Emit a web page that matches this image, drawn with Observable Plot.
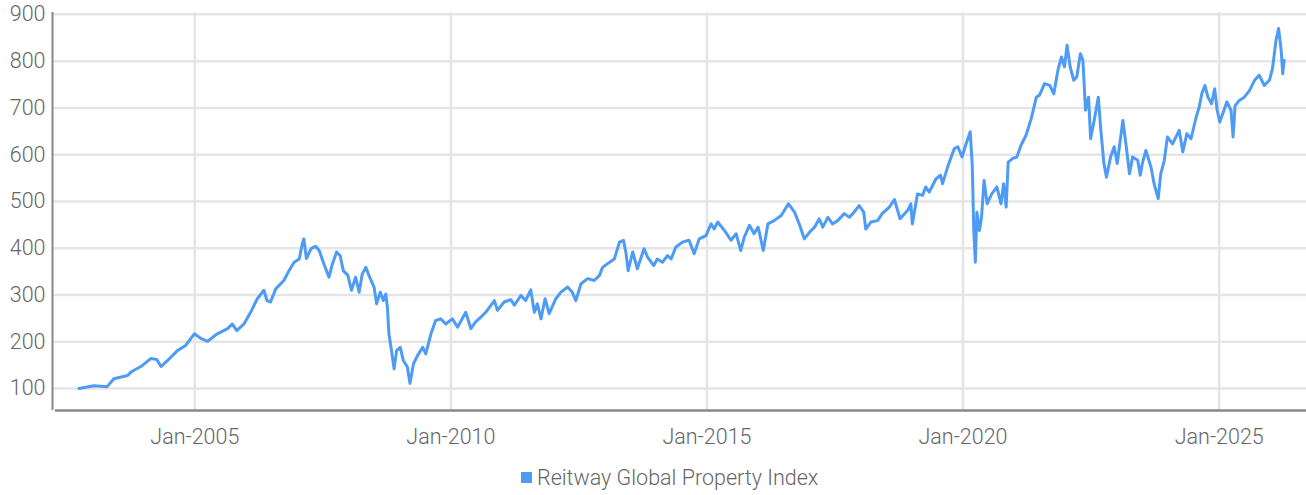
<!DOCTYPE html>
<html><head><meta charset="utf-8">
<script src="https://cdn.jsdelivr.net/npm/d3@7"></script>
<script src="https://cdn.jsdelivr.net/npm/@observablehq/plot@0.6"></script>
<style>
body{margin:0;background:#fff;font-family:Roboto,sans-serif;}
#chart{position:relative;width:1306px;height:495px;}
#legend{position:absolute;left:521px;top:465px;display:flex;align-items:center;font-size:21.5px;font-weight:300;color:#666;white-space:nowrap;}
#legend .sw{width:11px;height:11px;background:#4e9bf5;margin-right:5px;display:inline-block;}
</style></head><body>
<div id="chart"></div>
<script>
const seriesName = "Reitway Global Property Index";
const decimalYears = [
2002.74,2003.03,2003.29,2003.42,2003.69,2003.78,2003.95,2004.14,2004.26,2004.34,2004.47,2004.66,2004.82,2004.99,
2005.12,2005.25,2005.44,2005.64,2005.73,2005.82,2005.96,2006.09,2006.22,2006.35,2006.41,2006.48,2006.58,2006.74,2006.84,2006.94,
2007.04,2007.10,2007.13,2007.18,2007.27,2007.36,2007.43,2007.52,2007.62,2007.69,2007.77,2007.84,2007.90,2007.99,
2008.06,2008.14,2008.21,2008.27,2008.34,2008.40,2008.50,2008.55,2008.62,2008.68,2008.73,2008.76,2008.79,2008.84,2008.89,2008.94,
2009.01,2009.07,2009.15,2009.20,2009.27,2009.35,2009.45,2009.51,2009.61,2009.70,2009.80,2009.90,
2010.03,2010.13,2010.29,2010.39,2010.48,2010.59,2010.68,2010.85,2010.91,
2011.04,2011.17,2011.24,2011.37,2011.46,2011.56,2011.63,2011.69,2011.76,2011.84,2011.92,
2012.05,2012.15,2012.28,2012.37,2012.44,2012.54,2012.67,2012.80,2012.90,2012.96,
2013.06,2013.19,2013.29,2013.37,2013.42,2013.46,2013.55,2013.64,2013.77,2013.84,2013.96,
2014.03,2014.13,2014.23,2014.30,2014.39,2014.52,2014.65,2014.75,2014.85,2014.98,
2015.08,2015.14,2015.21,2015.34,2015.47,2015.57,2015.66,2015.73,2015.83,2015.92,
2016.00,2016.10,2016.19,2016.31,2016.45,2016.59,2016.71,2016.80,2016.90,
2017.00,2017.10,2017.19,2017.26,2017.36,2017.45,2017.55,2017.68,2017.78,2017.87,2017.97,
2018.06,2018.10,2018.20,2018.33,2018.42,2018.56,2018.66,2018.77,2018.92,2018.98,
2019.01,2019.11,2019.21,2019.27,2019.34,2019.47,2019.56,2019.60,2019.70,2019.83,2019.90,2019.98,
2020.06,2020.14,2020.18,2020.21,2020.24,2020.27,2020.32,2020.36,2020.41,2020.47,2020.56,2020.66,2020.74,2020.79,2020.84,2020.88,2020.97,
2021.05,2021.13,2021.23,2021.33,2021.43,2021.49,2021.59,2021.69,2021.77,2021.85,2021.92,2021.98,
2022.03,2022.09,2022.16,2022.22,2022.29,2022.34,2022.39,2022.45,2022.49,2022.56,2022.64,2022.69,2022.75,2022.80,2022.88,2022.95,
2023.01,2023.12,2023.18,2023.25,2023.31,2023.41,2023.46,2023.50,2023.57,2023.67,2023.73,2023.81,2023.86,2023.93,2023.99,
2024.09,2024.22,2024.29,2024.37,2024.45,2024.55,2024.61,2024.66,2024.72,2024.78,2024.85,2024.91,2024.96,
2025.01,2025.07,2025.15,2025.23,2025.27,2025.31,2025.39,2025.49,2025.59,2025.69,2025.78,2025.88,2025.98,
2026.04,2026.11,2026.16,2026.21,2026.24,2026.27
];
const indexValues = [
100,106,104,121,128,137,147,164,162,147,160,181,192,217,
207,201,217,228,238,224,238,263,292,310,288,285,313,331,352,370,
377,410,420,378,399,404,395,367,338,367,392,384,352,342,
310,338,306,345,359,342,317,281,306,288,302,274,217,181,142,181,
188,160,146,111,153,171,188,174,217,245,249,238,
249,231,263,228,242,253,263,288,267,
285,290,278,299,288,311,263,281,249,292,260,
292,306,317,306,288,324,335,331,342,359,
367,377,413,417,388,352,392,356,399,381,363,
377,370,384,377,402,413,417,388,420,427,
452,441,456,438,417,431,395,424,449,431,
445,395,452,459,470,495,477,452,420,
434,445,463,445,466,452,459,474,466,477,491,
477,441,456,459,474,488,504,463,481,495,
452,516,513,531,520,548,556,538,574,613,617,595,
623,649,577,438,370,477,438,466,545,495,516,531,495,538,488,584,592,
595,620,642,677,723,727,752,748,730,780,809,788,
834,788,759,766,816,802,695,723,634,673,723,652,581,552,595,617,
581,673,623,559,595,588,556,581,609,573,538,506,559,588,638,
623,652,606,645,634,680,702,730,748,723,709,741,695,
670,688,713,695,638,705,716,723,737,759,770,748,759,
784,845,870,823,773,802
];
const tickYears = [2005, 2010, 2015, 2020, 2025];
const tickLabels = ["Jan-2005", "Jan-2010", "Jan-2015", "Jan-2020", "Jan-2025"];
const yTicks = [100, 200, 300, 400, 500, 600, 700, 800, 900];

function toDate(y) {
  const yr = Math.floor(y);
  const s = Date.UTC(yr, 0, 1), e = Date.UTC(yr + 1, 0, 1);
  return new Date(s + (y - yr) * (e - s));
}
const data = decimalYears.map((y, i) => ({date: toDate(y), value: indexValues[i]}));
const tickDates = tickYears.map(y => new Date(Date.UTC(y, 0, 1)));
const labelOf = new Map(tickDates.map((d, i) => [+d, tickLabels[i]]));
const xStart = toDate(2002.222), xEnd = toDate(2026.705);
const lineColor = "#4e9bf5";

const plot = Plot.plot({
  width: 1306, height: 455,
  marginLeft: 52, marginRight: 0, marginTop: 12, marginBottom: 45,
  style: {fontFamily: "Roboto, sans-serif", fontSize: "21.5px", fontWeight: 300, color: "#666", background: "#fff", overflow: "visible"},
  x: {type: "utc", domain: [xStart, xEnd]},
  y: {domain: [53, 904]},
  marks: [
    Plot.gridY(yTicks, {stroke: "#e5e5e5", strokeOpacity: 1, strokeWidth: 2.5}),
    Plot.gridX(tickDates, {stroke: "#e5e5e5", strokeOpacity: 1, strokeWidth: 2.5}),
    Plot.ruleX([xStart], {stroke: "#888", strokeWidth: 2}),
    Plot.ruleY([53], {stroke: "#888", strokeWidth: 2.5, x1: toDate(2002.28), x2: xEnd}),
    Plot.axisY(yTicks, {tickSize: 0, tickPadding: 7, label: null, fill: "#666"}),
    Plot.axisX(tickDates, {tickSize: 0, tickPadding: 18, label: null, tickFormat: d => labelOf.get(+d), fill: "#666"}),
    Plot.lineY(data, {x: "date", y: "value", stroke: lineColor, strokeWidth: 3, strokeLinejoin: "round"})
  ]
});
const chart = document.getElementById("chart");
chart.appendChild(plot);
const legend = document.createElement("div");
legend.id = "legend";
legend.innerHTML = `<span class="sw"></span><span></span>`;
legend.lastChild.textContent = seriesName;
chart.appendChild(legend);
</script>
</body></html>
